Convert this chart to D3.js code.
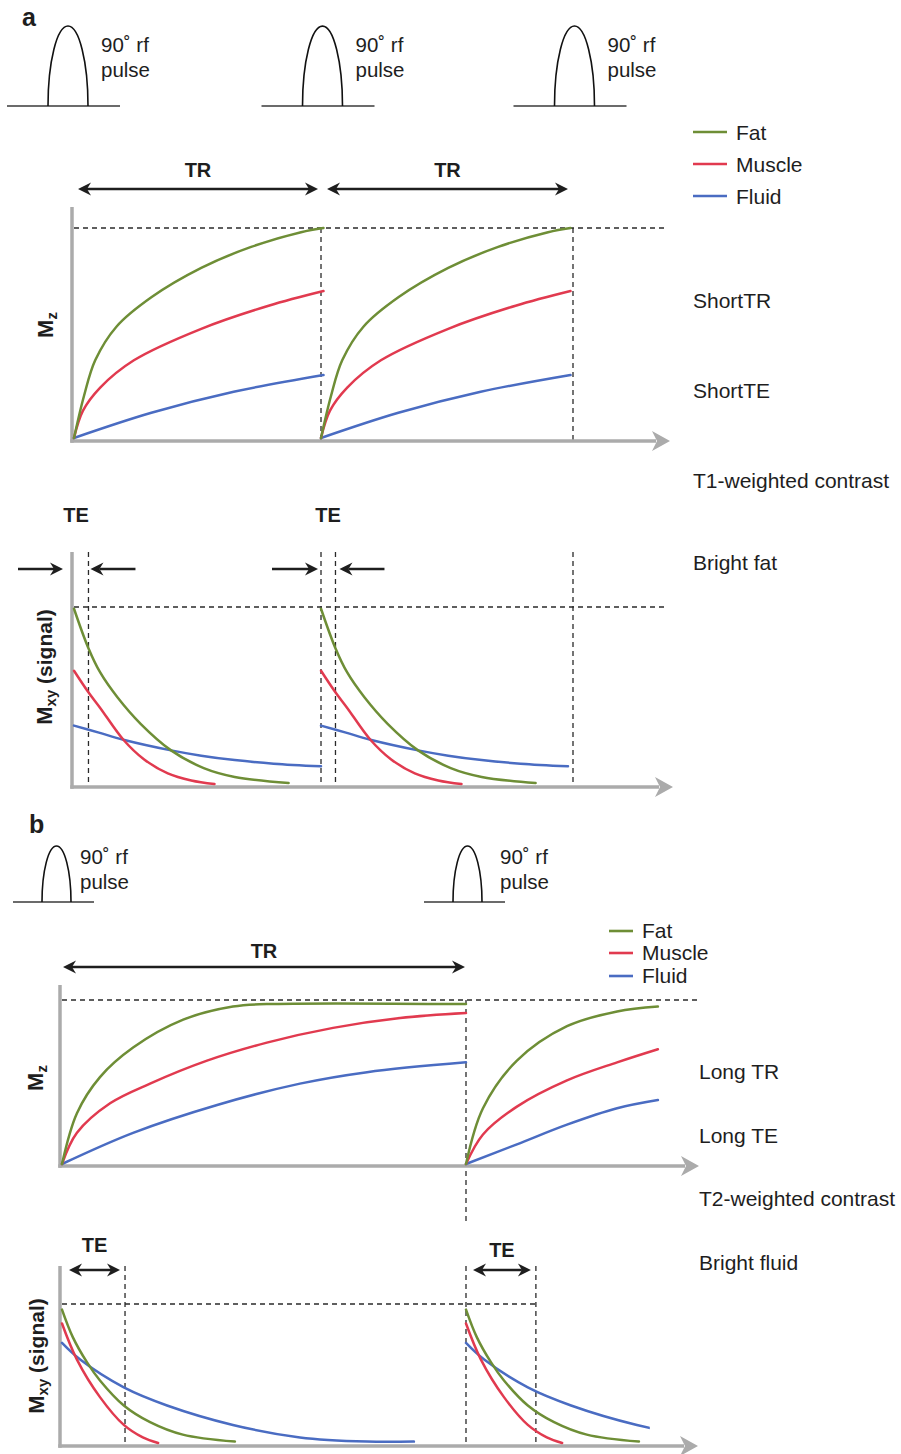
<!DOCTYPE html>
<html>
<head>
<meta charset="utf-8">
<script src="https://cdn.jsdelivr.net/npm/d3@7"></script>
<style>
  body { margin: 0; background: #fff; }
  svg { display: block; }
</style>
</head>
<body>
<script>
// ---------------- DATA ----------------
// time in arbitrary units (one TR = 100), value as fraction of full magnetisation
const tissues = ["Fat", "Muscle", "Fluid"];

// Panel a : short TR / short TE
const periodStartsA = [0, 99];
const periodEndA = 200;
const teA = 5.8;
const aMzFat    = [[0,0],[4,0.20],[8.5,0.37],[17,0.53],[31,0.67],[51,0.81],[71,0.91],[91,0.98],[100,1.0]];
const aMzMuscle = [[0,0],[3.6,0.13],[10.5,0.24],[24,0.37],[51,0.52],[78,0.63],[100,0.70]];
const aMzFluid  = [[0,0],[31,0.12],[64,0.22],[100,0.30]];
const aMxyFat    = [[0,0.99],[5.7,0.77],[10.5,0.63],[17.4,0.49],[26.7,0.34],[38.9,0.19],[52,0.09],[64.4,0.04],[86,0.005]];
const aMxyMuscle = [[0,0.64],[5.7,0.52],[10.5,0.43],[19.8,0.25],[28,0.14],[37.6,0.06],[47,0.02],[56.3,0]];
const aMxyFluid  = [[0,0.33],[10,0.29],[19.8,0.25],[38.9,0.19],[51,0.16],[64.4,0.135],[80,0.115],[99,0.10]];

// Panel b : long TR / long TE
const periodStartsB = [0, 100];
const teB = [15.6, 17.3];
const bMxyWindow2 = 45.5;   // length of the drawn second Mxy period
const bMzFat1    = [[0,0],[3.7,0.31],[9.4,0.53],[17.6,0.71],[30,0.88],[42.3,0.96],[50.7,0.975],[100,0.975]];
const bMzMuscle1 = [[0,0],[3.7,0.19],[11.9,0.37],[21.8,0.49],[35.9,0.63],[50.7,0.74],[67.1,0.83],[83.7,0.89],[100,0.92]];
const bMzFluid1  = [[0,0],[17.6,0.19],[38.4,0.36],[58.9,0.49],[75.5,0.56],[100,0.62]];
const bMzFat2    = [[0,0],[4.2,0.34],[12.6,0.63],[25,0.84],[37.4,0.93],[47.5,0.96]];
const bMzMuscle2 = [[0,0],[4.2,0.18],[12.6,0.35],[25,0.51],[37.4,0.62],[47.5,0.70]];
const bMzFluid2  = [[0,0],[12.6,0.12],[25,0.24],[37.4,0.34],[47.5,0.39]];
const bMxyFat    = [[0,0.96],[2.7,0.76],[6.2,0.58],[9.4,0.45],[15.3,0.27],[21.8,0.15],[29.9,0.06],[42.8,0.01]];
const bMxyMuscle = [[0,0.86],[3.7,0.60],[9.4,0.33],[15.3,0.13],[20,0.04],[23.8,0]];
const bMxyFluid  = [[0,0.72],[4.5,0.60],[15.3,0.40],[26,0.27],[42.3,0.13],[58.9,0.04],[75.5,0.01],[87.1,0.01]];

// Text
const pulseLabel = ["90˚ rf", "pulse"];
const notesA = ["ShortTR", "ShortTE", "T1-weighted contrast", "Bright fat"];
const notesB = ["Long TR", "Long TE", "T2-weighted contrast", "Bright fluid"];

// ---------------- DRAWING ----------------
const FONT = '"Liberation Sans", Arial, Helvetica, sans-serif';
const INK = "#1e1e1e", GRAY = "#ababab", DASH = "#2a2a2a";
const COLOR = { Fat: "#6e8e36", Muscle: "#e13a4f", Fluid: "#4a6cc2" };

const svg = d3.select("body").append("svg")
  .attr("width", 901).attr("height", 1454)
  .style("font-family", FONT);

function dashed(x1, y1, x2, y2) {
  svg.append("line").attr("x1", x1).attr("y1", y1).attr("x2", x2).attr("y2", y2)
    .attr("stroke", DASH).attr("stroke-width", 1.3).attr("stroke-dasharray", "5,4");
}
function head(x, y, dir, L, Hw, n, color) {
  svg.append("path")
    .attr("d", `M${x},${y} L${x - dir * L},${y - Hw} L${x - dir * (L - n)},${y} L${x - dir * L},${y + Hw} Z`)
    .attr("fill", color);
}
function arrow(x1, x2, y, start, end) {
  const L = 13, Hw = 6.5, n = 4;
  svg.append("line")
    .attr("x1", start ? x1 + L - n : x1).attr("x2", end ? x2 - (L - n) : x2)
    .attr("y1", y).attr("y2", y).attr("stroke", INK).attr("stroke-width", 2.6);
  if (start) head(x1, y, -1, L, Hw, n, INK);
  if (end) head(x2, y, 1, L, Hw, n, INK);
}
function grayAxes(x0, yTop, yBase, xTip) {
  svg.append("line").attr("x1", x0).attr("x2", x0).attr("y1", yTop).attr("y2", yBase + 1.75)
    .attr("stroke", GRAY).attr("stroke-width", 3.5);
  svg.append("line").attr("x1", x0 - 1.75).attr("x2", xTip - 14).attr("y1", yBase).attr("y2", yBase)
    .attr("stroke", GRAY).attr("stroke-width", 3.5);
  head(xTip, yBase, 1, 18, 10, 5, GRAY);
}
function text(x, y, s, size, weight, anchor) {
  return svg.append("text").attr("x", x).attr("y", y).text(s)
    .attr("font-size", size).attr("font-weight", weight || "normal")
    .attr("text-anchor", anchor || "start").attr("fill", INK);
}
function yLabel(x, y, main, sub, rest) {
  const t = svg.append("text").attr("transform", `translate(${x},${y}) rotate(-90)`)
    .attr("text-anchor", "middle").attr("font-weight", "bold").attr("font-size", 22).attr("fill", INK);
  t.append("tspan").text(main);
  t.append("tspan").attr("font-size", 15).attr("dy", 4).text(sub);
  if (rest) t.append("tspan").attr("font-size", 21).attr("dy", -4).text(rest);
}
function pulse(cx, base, rx, ry, left, right, labelX, y1, y2) {
  svg.append("line").attr("x1", cx - left).attr("x2", cx + right).attr("y1", base).attr("y2", base)
    .attr("stroke", "#3a3a3a").attr("stroke-width", 1.6);
  svg.append("path").attr("d", `M${cx - rx},${base} A${rx},${ry} 0 0 1 ${cx + rx},${base}`)
    .attr("fill", "none").attr("stroke", "#111").attr("stroke-width", 1.6);
  text(labelX, y1, pulseLabel[0], 20.5);
  text(labelX, y2, pulseLabel[1], 20.5);
}
function legend(x1, x2, xt, ys, dy, size) {
  tissues.forEach((k, i) => {
    svg.append("line").attr("x1", x1).attr("x2", x2).attr("y1", ys[i]).attr("y2", ys[i])
      .attr("stroke", COLOR[k]).attr("stroke-width", 2.6);
    text(xt, ys[i] + dy, k, size);
  });
}
function curves(x, y, seriesByPeriod, clipEnds) {
  const line = d3.line().x(d => x(d[0])).y(d => y(d[1])).curve(d3.curveCatmullRom.alpha(0.5));
  seriesByPeriod.forEach((p, pi) => {
    let g = svg.append("g");
    if (clipEnds && clipEnds[pi] != null) {
      const id = "clip" + pi + Math.random().toString(36).slice(2);
      svg.append("clipPath").attr("id", id).append("rect")
        .attr("x", x(p.start) - 2).attr("width", x(p.start + clipEnds[pi]) - x(p.start) + 2)
        .attr("y", 0).attr("height", 1454);
      g.attr("clip-path", `url(#${id})`);
    }
    ["Fluid", "Muscle", "Fat"].forEach(k => {
      g.append("path")
        .attr("d", line(p.series[k].map(([t, v]) => [p.start + t, v])))
        .attr("fill", "none").attr("stroke", COLOR[k]).attr("stroke-width", 2.5)
        .attr("stroke-linecap", "round");
    });
  });
}

// ======== PANEL a ========
const xA = d3.scaleLinear().domain([0, periodEndA]).range([74, 573]);
const yAz = d3.scaleLinear().domain([0, 1]).range([438, 228]);
const yAxy = d3.scaleLinear().domain([0, 1]).range([784, 607]);

text(22, 26, "a", 25, "bold");
[...periodStartsA, periodEndA].forEach((t, i) =>
  pulse(xA(t) + (i === 0 ? -6 : 1.5), 106, 20, 80, 61, 52, xA(t) + (i === 0 ? -6 : 1.5) + 33, 52, 77));

legend(693, 727, 736, [132, 164, 196], 8, 21);

// TR arrows
arrow(xA(0) + 4, xA(periodStartsA[1]) - 3, 189, true, true);
arrow(xA(periodStartsA[1]) + 6, xA(periodEndA) - 5, 189, true, true);
text((xA(0) + 4 + xA(periodStartsA[1]) - 3) / 2, 177, "TR", 20, "bold", "middle");
text((xA(periodStartsA[1]) + 6 + xA(periodEndA) - 5) / 2, 177, "TR", 20, "bold", "middle");

// Mz
dashed(74, yAz(1), 665, yAz(1));
dashed(xA(periodStartsA[1]), yAz(1), xA(periodStartsA[1]), 440);
dashed(xA(periodEndA), yAz(1), xA(periodEndA), 440);
grayAxes(72, 207, 441, 670);
curves(xA, yAz, periodStartsA.map(s => ({ start: s, series: { Fat: aMzFat, Muscle: aMzMuscle, Fluid: aMzFluid } })));
yLabel(53, 325, "M", "z");

// Mxy
dashed(74, yAxy(1), 666, yAxy(1));
periodStartsA.forEach(s => {
  dashed(xA(s + teA), 552, xA(s + teA), 782);
});
dashed(xA(periodStartsA[1]), 552, xA(periodStartsA[1]), 782);
dashed(xA(periodEndA), 552, xA(periodEndA), 782);
grayAxes(72, 552, 787, 673);
curves(xA, yAxy, periodStartsA.map(s => ({ start: s, series: { Fat: aMxyFat, Muscle: aMxyMuscle, Fluid: aMxyFluid } })));
yLabel(52, 667, "M", "xy", " (signal)");
// TE arrows
text(76, 522, "TE", 20, "bold", "middle");
text(328, 522, "TE", 20, "bold", "middle");
arrow(18, xA(0) - 11, 569, false, true);
arrow(xA(teA) + 2, xA(teA) + 47, 569, true, false);
arrow(xA(periodStartsA[1]) - 49, xA(periodStartsA[1]) - 3, 569, false, true);
arrow(xA(periodStartsA[1] + teA) + 4, xA(periodStartsA[1] + teA) + 49, 569, true, false);

notesA.forEach((s, i) => text(693, [308, 398, 488, 570][i], s, 21));

// ======== PANEL b ========
const xB = d3.scaleLinear().domain([0, 100]).range([62, 466]);
const yBz = d3.scaleLinear().domain([0, 1]).range([1164, 1000]);
const yBxy = d3.scaleLinear().domain([0, 1]).range([1443, 1304]);

text(29, 833, "b", 25, "bold");
pulse(xB(0) - 5.5, 902, 14.5, 56, 43.5, 37.5, 80, 864, 889);
pulse(xB(100) + 1.5, 902, 14.5, 56, 43.5, 37.5, 500, 864, 889);
legend(609, 633, 642, [931, 953, 976], 7, 21);

arrow(xB(0) + 1, xB(100) - 1, 967, true, true);
text((xB(0) + xB(100)) / 2, 958, "TR", 20, "bold", "middle");

// Mz
dashed(62, yBz(1), 700, yBz(1));
dashed(xB(100), yBz(1), xB(100), 1225);
grayAxes(60, 985, 1166, 699);
curves(xB, yBz, [
  { start: periodStartsB[0], series: { Fat: bMzFat1, Muscle: bMzMuscle1, Fluid: bMzFluid1 } },
  { start: periodStartsB[1], series: { Fat: bMzFat2, Muscle: bMzMuscle2, Fluid: bMzFluid2 } }
]);
yLabel(43, 1078, "M", "z");

// Mxy
dashed(62, yBxy(1), 535, yBxy(1));
periodStartsB.forEach((s, i) => {
  dashed(xB(s + teB[i]), 1266, xB(s + teB[i]), 1444);
});
dashed(xB(100), 1266, xB(100), 1444);
grayAxes(60, 1266, 1446, 698);
curves(xB, yBxy, periodStartsB.map(s => ({ start: s, series: { Fat: bMxyFat, Muscle: bMxyMuscle, Fluid: bMxyFluid } })), [null, bMxyWindow2]);
yLabel(44, 1356, "M", "xy", " (signal)");
periodStartsB.forEach((s, i) => {
  const x1 = xB(s) + 7, x2 = xB(s + teB[i]) - 5;
  arrow(x1, x2, 1270, true, true);
  text((x1 + x2) / 2, [1252, 1257][i], "TE", 20, "bold", "middle");
});

notesB.forEach((s, i) => text(699, [1079, 1143, 1206, 1270][i], s, 21));
</script>
</body>
</html>
